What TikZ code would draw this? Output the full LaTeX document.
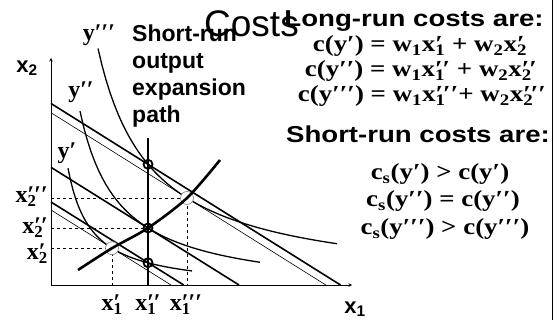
\documentclass[tikz,border=0pt]{standalone}
\usepackage{fontspec}
\usepackage{graphicx}
\setmainfont{Liberation Serif}
\setsansfont{Liberation Sans}
\usetikzlibrary{arrows,calc}

\newcommand{\xsp}[2]{x\sbox0{\textsubscript{#1}}\sbox2{#2}%
  \ifdim\wd0>\wd2 \makebox[\wd0][l]{\rlap{\copy0}\copy2}\else\makebox[\wd2][l]{\rlap{\copy0}\copy2}\fi}
\newcommand{\widen}[2][1.17]{\scalebox{#1}[1]{#2}}

\tikzset{
  isoquant/.style={line width=1.3pt},
  srcost/.style={line width=1.6pt},
  lrcost/.style={line width=0.6pt},
  guide/.style={dashed, line width=0.6pt},
  srdot/.style={circle, draw, line width=1.8pt, inner sep=0pt, minimum size=9pt},
  lrdot/.style={circle, draw=gray, fill=white, line width=0.6pt, inner sep=0pt, minimum size=13pt},
  serlab/.style={font=\bfseries\fontsize{24}{24}\selectfont, inner sep=0pt},
  sanslab/.style={font=\sffamily\bfseries\fontsize{22}{22}\selectfont, inner sep=0pt},
  heading/.style={font=\sffamily\bfseries\fontsize{23}{23}\selectfont, inner sep=0pt, anchor=base},
  eqn/.style={font=\bfseries\fontsize{23}{23}\selectfont, inner sep=0pt, anchor=base}
}

\begin{document}
\begin{tikzpicture}[x=1pt, y=-1pt]
    \useasboundingbox (0,0) rectangle (560,320);

    % Axes
    \coordinate (o) at (51,285);
    \draw[->, >=stealth, line width=0.6pt] (o) -- (51,58) coordinate (ytip);
    \draw[->, >=stealth, line width=0.6pt] (o) -- (352,285) coordinate (xtip);
    \node[sanslab] (xtwo) at (27,68) {x\textsubscript{2}};
    \node[sanslab] (xone) at (355,309) {x\textsubscript{1}};

    % Tangency and short-run points
    \coordinate (t1) at (112,248.2);
    \coordinate (t2) at (148,228);
    \coordinate (t3) at (187,198);
    \coordinate (s1) at (148,262.7);
    \coordinate (s3) at (148,164.3);

    % Guide lines
    \foreach \p in {t1,t2,t3}
        \draw[guide] (\p -| o) -- (\p) -- (\p |- o);

    % Isocost lines
    \draw[srcost] (51,202) -- (183.7,285);
    \draw[lrcost] (51,210) -- (171,285);
    \draw[srcost] (51,167.3) -- (239,285);
    \draw[srcost] (51,103.5) -- (340.5,285);
    \draw[lrcost] (51,112.7) -- (325.8,285);

    % Isoquants
    \draw[isoquant] plot[domain=68:192, samples=50] (\x, {290-2800/(\x-45)});
    \draw[isoquant] plot[domain=80:260, samples=50] (\x, {295-7169/(\x-41)});
    \draw[isoquant] plot[domain=98:337, samples=60] (\x, {287-12638/(\x-45)});

    % Short-run path
    \draw[line width=1.5pt] (148,285) -- (148,138) coordinate (srtop);
    \foreach \p in {t1,t3}
        \node[lrdot] (lr-\p) at (\p) {};

    % Long-run expansion path
    \draw[line width=2.6pt] plot[smooth] coordinates {(78,270) (112,248.2) (148,228) (187,198) (220,160)};
    \foreach \p in {s1,t2,s3}
        \node[srdot] (sr-\p) at (\p) {};

    % Axis labels
    \node[serlab] (ya) at (67,153) {y′};
    \node[serlab] (yb) at (81,92) {y′′};
    \node[serlab] (yc) at (99,35) {y′′′};
    \node[serlab, anchor=east] (xa2) at (48,254) {\xsp{2}{′}};
    \node[serlab, anchor=east] (xb2) at (48,228) {\xsp{2}{′′}};
    \node[serlab, anchor=east] (xc2) at (48,197) {\xsp{2}{′′′}};
    \node[serlab] (xa1) at (112,305) {\xsp{1}{′}};
    \node[serlab] (xb1) at (148,305) {\xsp{1}{′′}};
    \node[serlab] (xc1) at (186,305) {\xsp{1}{′′′}};

    % Title and path note
    \node[anchor=base west, inner sep=0pt, font=\sffamily\fontsize{37}{37}\selectfont] (title) at (204,37) {Costs};
    \node[anchor=north west, align=left, inner sep=0pt, font=\sffamily\bfseries\fontsize{23}{27}\selectfont] (srnote) at (132,25) {Short-run\\output\\expansion\\path};

    % Cost panel
    \node[heading] (lrhead) at (414,27) {\widen[1.2]{Long-run costs are:}};
    \node[eqn] (c1) at (420,52) {\widen{c(y′) = w\textsubscript{1}\xsp{1}{′} + w\textsubscript{2}\xsp{2}{′}}};
    \node[eqn] (c2) at (421,77) {\widen{c(y′′) = w\textsubscript{1}\xsp{1}{′′} + w\textsubscript{2}\xsp{2}{′′}}};
    \node[eqn] (c3) at (422,102) {\widen{c(y′′′) = w\textsubscript{1}\xsp{1}{′′′}+ w\textsubscript{2}\xsp{2}{′′′}}};
    \node[heading] (srhead) at (418,143) {\widen[1.2]{Short-run costs are:}};
    \node[eqn] (cs1) at (440,180) {\widen{c\textsubscript{s}(y′) > c(y′)}};
    \node[eqn] (cs2) at (443,207) {\widen{c\textsubscript{s}(y′′) = c(y′′)}};
    \node[eqn] (cs3) at (445,235) {\widen{c\textsubscript{s}(y′′′) > c(y′′′)}};
    \draw[line width=1.2pt] (552.5,0) -- (552.5,320);
\end{tikzpicture}
\end{document}
